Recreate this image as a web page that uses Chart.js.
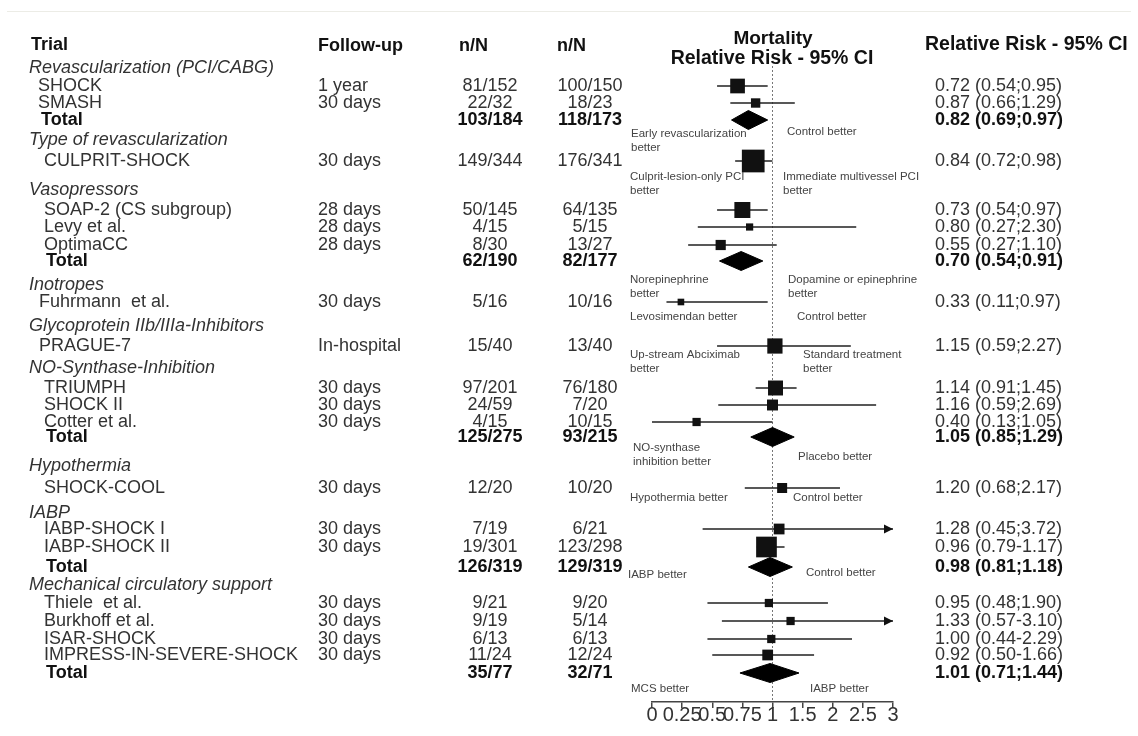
<!DOCTYPE html>
<html>
<head>
<meta charset="utf-8">
<script src="https://cdn.jsdelivr.net/npm/chart.js@4.4.1/dist/chart.umd.min.js"></script>
<style>
  html, body { margin: 0; padding: 0; background: #fff; }
  #wrap { position: relative; width: 1138px; height: 736px; }
  #topline { position: absolute; left: 7px; top: 11px; width: 1124px; height: 1px; background: #ecece6; }
  canvas { position: absolute; left: 0; top: 0; }
</style>
</head>
<body>
<div id="wrap">
  <div id="topline"></div>
  <canvas id="forest" width="1138" height="736"></canvas>
</div>
<script>
// g = group heading, s = single trial, t = pooled total
const rowKind = ['g','s','s','t','g','s','g','s','s','s','t','g','s','g','s','g','s','s','s','t','g','s','g','s','s','t','g','s','s','s','s','t'];
const trialNames = [
  'Revascularization (PCI/CABG)', 'SHOCK', 'SMASH', 'Total',
  'Type of revascularization', 'CULPRIT-SHOCK',
  'Vasopressors', 'SOAP-2 (CS subgroup)', 'Levy et al.', 'OptimaCC', 'Total',
  'Inotropes', 'Fuhrmann  et al.',
  'Glycoprotein IIb/IIIa-Inhibitors', 'PRAGUE-7',
  'NO-Synthase-Inhibition', 'TRIUMPH', 'SHOCK II', 'Cotter et al.', 'Total',
  'Hypothermia', 'SHOCK-COOL',
  'IABP', 'IABP-SHOCK I', 'IABP-SHOCK II', 'Total',
  'Mechanical circulatory support', 'Thiele  et al.', 'Burkhoff et al.', 'ISAR-SHOCK', 'IMPRESS-IN-SEVERE-SHOCK', 'Total'
];
const followUp = ['', '1 year', '30 days', '', '', '30 days', '', '28 days', '28 days', '28 days', '', '', '30 days', '', 'In-hospital', '',
  '30 days', '30 days', '30 days', '', '', '30 days', '', '30 days', '30 days', '', '', '30 days', '30 days', '30 days', '30 days', ''];
const eventsA = ['', '81/152', '22/32', '103/184', '', '149/344', '', '50/145', '4/15', '8/30', '62/190', '', '5/16', '', '15/40', '',
  '97/201', '24/59', '4/15', '125/275', '', '12/20', '', '7/19', '19/301', '126/319', '', '9/21', '9/19', '6/13', '11/24', '35/77'];
const eventsB = ['', '100/150', '18/23', '118/173', '', '176/341', '', '64/135', '5/15', '13/27', '82/177', '', '10/16', '', '13/40', '',
  '76/180', '7/20', '10/15', '93/215', '', '10/20', '', '6/21', '123/298', '129/319', '', '9/20', '5/14', '6/13', '12/24', '32/71'];
const rrLabels = ['', '0.72 (0.54;0.95)', '0.87 (0.66;1.29)', '0.82 (0.69;0.97)', '', '0.84 (0.72;0.98)', '',
  '0.73 (0.54;0.97)', '0.80 (0.27;2.30)', '0.55 (0.27;1.10)', '0.70 (0.54;0.91)', '', '0.33 (0.11;0.97)', '', '1.15 (0.59;2.27)', '',
  '1.14 (0.91;1.45)', '1.16 (0.59;2.69)', '0.40 (0.13;1.05)', '1.05 (0.85;1.29)', '', '1.20 (0.68;2.17)', '',
  '1.28 (0.45;3.72)', '0.96 (0.79-1.17)', '0.98 (0.81;1.18)', '',
  '0.95 (0.48;1.90)', '1.33 (0.57-3.10)', '1.00 (0.44-2.29)', '0.92 (0.50-1.66)', '1.01 (0.71;1.44)'];
// plotted estimate and CI, as drawn on the plot
const rrEst  = [null, 0.71, 0.86, 0.80, null, 0.84, null, 0.75, 0.81, 0.57, 0.74, null, 0.24, null, 1.04, null,
  1.05, 1.00, 0.37, 1.00, null, 1.16, null, 1.11, 0.95, 0.98, null, 0.97, 1.30, 0.99, 0.96, 0.98];
const ciLow  = [null, 0.54, 0.65, 0.66, null, 0.69, null, 0.54, 0.38, 0.30, 0.56, null, 0.12, null, 0.54, null,
  0.86, 0.55, 0.00, 0.82, null, 0.77, null, 0.42, 0.87, 0.80, null, 0.46, 0.58, 0.46, 0.50, 0.73];
const ciHigh = [null, 0.96, 1.37, 0.96, null, 1.00, null, 0.96, 2.39, 1.07, 0.92, null, 0.96, null, 2.30, null,
  1.40, 2.72, 1.00, 1.36, null, 2.12, null, 3.72, 1.20, 1.33, null, 1.92, 3.10, 2.32, 1.69, 1.44];
const studyWeight = [null, 54, 22, null, null, 129, null, 64, 13, 26, null, null, 11, null, 58, null,
  56, 30, 17, null, null, 25, null, 29, 107, null, null, 17, 17, 17, 29, null];
const tickValues = [0, 0.25, 0.5, 0.75, 1, 1.5, 2, 2.5, 3];

// layout
const rowY = [68, 86, 103, 120, 140, 161, 190, 210, 227, 245, 261, 285, 302, 326, 346, 368,
  388, 405, 422, 437, 466, 488, 513, 529, 547, 567, 585, 603, 621, 639, 655, 673];
const nameX = [29, 38, 38, 41, 29, 44, 29, 44, 44, 44, 46, 29, 39, 29, 39, 29,
  44, 44, 44, 46, 29, 44, 29, 44, 44, 46, 29, 44, 44, 44, 44, 46];
const notes = [
  [['Early revascularization', 'better'], 631, 134],
  [['Control better'], 787, 132],
  [['Culprit-lesion-only PCI', 'better'], 630, 177],
  [['Immediate multivessel PCI', 'better'], 783, 177],
  [['Norepinephrine', 'better'], 630, 280],
  [['Dopamine or epinephrine', 'better'], 788, 280],
  [['Levosimendan better'], 630, 317],
  [['Control better'], 797, 317],
  [['Up-stream Abciximab', 'better'], 630, 355],
  [['Standard treatment', 'better'], 803, 355],
  [['NO-synthase', 'inhibition better'], 633, 448],
  [['Placebo better'], 798, 457],
  [['Hypothermia better'], 630, 498],
  [['Control better'], 793, 498],
  [['IABP better'], 628, 575],
  [['Control better'], 806, 573],
  [['MCS better'], 631, 689],
  [['IABP better'], 810, 689]
];
const FONT = '"Liberation Sans", Arial, sans-serif';
const DIAMOND_H = 9.5;

// 0..1 gets the same width as 1..3
function tf(v) { return v <= 1 ? v : 1 + (v - 1) / 2; }
const xMax = tickValues[tickValues.length - 1];

// CI lines
const ciData = [];
rowKind.forEach((k, i) => {
  if (k !== 's') return;
  ciData.push({ x: tf(ciLow[i]), y: rowY[i] });
  ciData.push({ x: tf(Math.min(ciHigh[i], xMax)), y: rowY[i] });
  ciData.push({ x: null, y: null });
});

const boxData = [], boxRadius = [];
rowKind.forEach((k, i) => {
  if (k !== 's') return;
  boxData.push({ x: tf(rrEst[i]), y: rowY[i] });
  boxRadius.push(Math.SQRT2 * Math.sqrt(studyWeight[i]));
});

const diamondSets = [];
rowKind.forEach((k, i) => {
  if (k !== 't') return;
  const y = rowY[i];
  diamondSets.push({
    type: 'line',
    order: 2,
    data: [
      { x: tf(ciLow[i]), y: y }, { x: tf(rrEst[i]), y: y - DIAMOND_H },
      { x: tf(ciHigh[i]), y: y }, { x: tf(rrEst[i]), y: y + DIAMOND_H },
      { x: tf(ciLow[i]), y: y }
    ],
    borderColor: '#000', backgroundColor: '#000', borderWidth: 1,
    pointRadius: 0, fill: 'shape', tension: 0
  });
});

function txt(ctx, s, x, y, font, color, align) {
  ctx.font = font;
  ctx.fillStyle = color;
  ctx.textAlign = align || 'left';
  ctx.textBaseline = 'middle';
  ctx.fillText(s, x, y);
}

// table text, annotations and arrows
const tablePlugin = {
  id: 'table',
  afterDraw(chart) {
    const ctx = chart.ctx;
    const ys = chart.scales.y, xs = chart.scales.x;
    ctx.save();
    const hb = 'bold 18px ' + FONT;
    txt(ctx, 'Trial', 31, 45, hb, '#111');
    txt(ctx, 'Follow-up', 318, 46, hb, '#111');
    txt(ctx, 'n/N', 459, 46, hb, '#111');
    txt(ctx, 'n/N', 557, 46, hb, '#111');
    txt(ctx, 'Mortality', 773, 39, 'bold 19px ' + FONT, '#111', 'center');
    txt(ctx, 'Relative Risk - 95% CI', 772, 59, 'bold 19.5px ' + FONT, '#111', 'center');
    txt(ctx, 'Relative Risk - 95% CI', 925, 45, 'bold 19.5px ' + FONT, '#111');

    rowKind.forEach((k, i) => {
      const y = ys.getPixelForValue(rowY[i]);
      if (k === 'g') {
        txt(ctx, trialNames[i], nameX[i], y, 'italic 18px ' + FONT, '#333');
        return;
      }
      const f = k === 't' ? 'bold 18px ' + FONT : '18px ' + FONT;
      const c = k === 't' ? '#111' : '#333';
      txt(ctx, trialNames[i], nameX[i], y, f, c);
      txt(ctx, followUp[i], 318, y, f, c);
      txt(ctx, eventsA[i], 490, y, f, c, 'center');
      txt(ctx, eventsB[i], 590, y, f, c, 'center');
      txt(ctx, rrLabels[i], 935, y, f, c);

      if (k === 's' && ciHigh[i] > xMax) {
        const px = xs.getPixelForValue(tf(xMax));
        ctx.fillStyle = '#111';
        ctx.beginPath();
        ctx.moveTo(px, y);
        ctx.lineTo(px - 9, y - 4.5);
        ctx.lineTo(px - 9, y + 4.5);
        ctx.closePath();
        ctx.fill();
      }
    });

    notes.forEach(n => {
      n[0].forEach((line, j) => {
        txt(ctx, line, n[1], n[2] + j * 13.5, '11.5px ' + FONT, '#444');
      });
    });
    ctx.restore();
  }
};

// lower order is drawn on top
new Chart(document.getElementById('forest'), {
  type: 'scatter',
  data: {
    datasets: [
      {
        type: 'line',
        order: 4,
        data: [{ x: tf(1), y: 66 }, { x: tf(1), y: 702 }],
        borderColor: '#777', borderWidth: 1, borderDash: [2, 2], pointRadius: 0
      },
      {
        type: 'line',
        order: 3,
        data: ciData,
        borderColor: '#222', borderWidth: 1.6, pointRadius: 0, spanGaps: false
      },
      ...diamondSets,
      {
        type: 'scatter',
        order: 1,
        data: boxData,
        pointStyle: 'rect',
        pointRadius: boxRadius,
        backgroundColor: '#111',
        borderWidth: 0
      }
    ]
  },
  options: {
    responsive: false,
    animation: false,
    devicePixelRatio: 1,
    events: [],
    layout: { autoPadding: false, padding: { left: 652, right: 245, top: 0, bottom: 0 } },
    plugins: { legend: { display: false }, tooltip: { enabled: false } },
    scales: {
      x: {
        type: 'linear',
        min: 0,
        max: tf(xMax),
        position: 'bottom',
        afterBuildTicks: s => { s.ticks = tickValues.map(v => ({ value: tf(v) })); },
        afterFit: s => { s.height = 34; },
        grid: { drawOnChartArea: false, drawTicks: true, tickLength: 6, color: '#444', lineWidth: 1.5 },
        border: { display: true, color: '#444', width: 1.5 },
        ticks: {
          autoSkip: false,
          maxRotation: 0,
          padding: -5,
          color: '#333',
          font: { family: FONT, size: 20 },
          callback: (v, i) => String(tickValues[i])
        }
      },
      y: { type: 'linear', display: false, reverse: true, min: 0, max: 702 }
    }
  },
  plugins: [tablePlugin]
});
</script>
</body>
</html>
